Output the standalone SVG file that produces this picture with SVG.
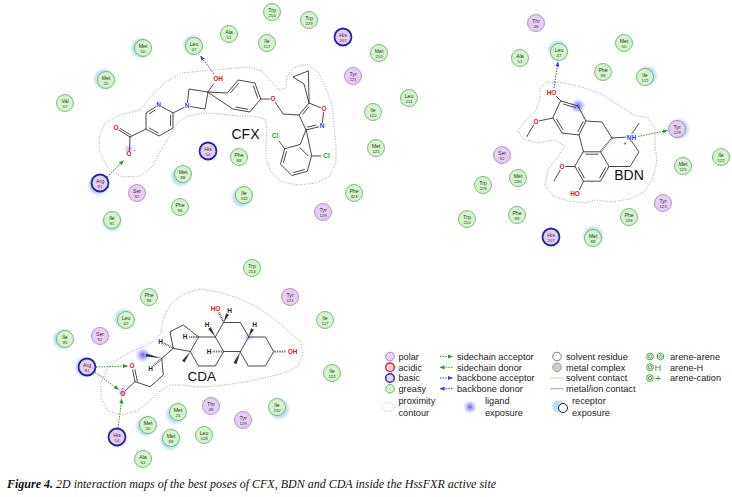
<svg xmlns="http://www.w3.org/2000/svg" width="732" height="497" viewBox="0 0 732 497">
<defs>
<style>
.res text{font-family:"Liberation Sans",Arial,sans-serif;font-size:5.2px;fill:#333;text-anchor:middle}
.res text.n{font-size:4.3px}
.c{stroke-width:0.8}
.g .c{fill:#d4f5cb;stroke:#5cab5c}
.p .c{fill:#e7cdf1;stroke:#a47ac2}
.b .c{fill:#e7cdf1;stroke:#2222aa;stroke-width:1.8}
.halo{fill:url(#hg)}
.bd{stroke:#333;stroke-width:0.9;fill:none;stroke-linecap:round;stroke-linejoin:round}
.hs{stroke:#333;stroke-width:2.2;stroke-dasharray:0.7 1;fill:none}
.wd{fill:#333}
.at{font-family:"Liberation Sans",Arial,sans-serif;font-size:6.5px;text-anchor:middle;font-weight:bold}
.O{fill:#ee1111}.N{fill:#2b3df0}.Cl{fill:#22a022}.H{fill:#222}
.lig{font-family:"Liberation Sans",Arial,sans-serif;font-size:14px;fill:#111;text-anchor:middle}
.ctr{fill:none;stroke:#9a9a9a;stroke-width:0.9;stroke-dasharray:1 1.6;stroke-linejoin:round}
.hbg{stroke:#2a9a2a;stroke-width:1;stroke-dasharray:1.5 1.2;fill:none;marker-end:url(#ag)}
.hbb{stroke:#3a3ae6;stroke-width:1;stroke-dasharray:1.5 1.2;fill:none;marker-end:url(#ab)}
.lt{font-family:"Liberation Sans",Arial,sans-serif;font-size:9.2px;fill:#222}
.cap{font-family:"Liberation Serif","Times New Roman",serif;font-size:12px;font-style:italic;fill:#111}
</style>
<radialGradient id="hg">
<stop offset="0" stop-color="#9fcdf5" stop-opacity="0.9"/>
<stop offset="0.72" stop-color="#b3d8f7" stop-opacity="0.8"/>
<stop offset="1" stop-color="#d0e7fa" stop-opacity="0"/>
</radialGradient>
<radialGradient id="lg">
<stop offset="0" stop-color="#4040ff" stop-opacity="0.85"/>
<stop offset="0.5" stop-color="#7070ff" stop-opacity="0.45"/>
<stop offset="1" stop-color="#a0a0ff" stop-opacity="0"/>
</radialGradient>
<marker id="ag" viewBox="0 0 6 6" refX="5.5" refY="3" markerWidth="5" markerHeight="5" orient="auto" markerUnits="userSpaceOnUse"><path d="M0,0.5 L6,3 L0,5.5z" fill="#2a9a2a"/></marker>
<marker id="ab" viewBox="0 0 6 6" refX="5.5" refY="3" markerWidth="5" markerHeight="5" orient="auto" markerUnits="userSpaceOnUse"><path d="M0,0.5 L6,3 L0,5.5z" fill="#3a3ae6"/></marker>
</defs>
<rect width="732" height="497" fill="#fff"/>

<!-- CFX contour & exposure -->
<g id="cfx-contour">
<polygon class="ctr" points="99,137 105,123 120,115 140,110 153,94 167,81 182,73 202,71 225,69 248,67 262,71 270,80 279,90 286,88 287,77 293,68 307,64 318,72 326,88 332,105 334,125 336,145 336,162 330,176 316,183 298,185 282,182 271,172 266,158 266,143 267,128 265,119 253,116 237,116 220,114 203,113 188,116 178,122 171,134 162,148 152,167 140,176 122,177 108,168 100,153"/>
<circle cx="129" cy="149" r="6" fill="url(#lg)" opacity="0.45"/>
</g>
<g id="bdn-contour">
<polygon class="ctr" points="547,82 565,83 585,88 603,95 620,106 634,115 648,118 655,128 655,145 657,162 652,180 644,192 630,199 612,202 596,200 584,203 568,201 553,196 545,185 548,170 557,158 565,146 555,140 538,143 523,139 518,130 525,121 535,112 540,100 540,88"/>
<circle cx="578" cy="106" r="8" fill="url(#lg)"/>
</g>
<g id="cda-contour">
<polygon class="ctr" points="155,340 161,333 163,320 170,305 183,294 200,289 218,292 238,298 257,307 273,318 288,331 301,342 303,355 297,367 284,373 268,377 250,381 232,384 216,386 198,387 182,385 170,385 160,391 150,401 137,411 122,415 108,411 101,398 101,382 107,369 118,359 132,351 145,346"/>
<circle cx="143" cy="355" r="8" fill="url(#lg)"/>
<circle cx="123" cy="392" r="6" fill="url(#lg)" opacity="0.5"/>
<circle cx="248.7" cy="337" r="5" fill="url(#lg)" opacity="0.5"/>
</g>

<!-- CFX ligand -->
<g id="cfx">
<path class="bd" d="M155.6,106.9 L146,113 L146,129 L159,136 L173,128 L173,113 L161.6,106.7 M149.4,113.7 L155,110.1 M149.2,128 L158.3,132.9 M170.6,125.75 L170.6,115.25
M146,129 L130,137 M130,137 L119,130.2 M131.1,135.3 L120.1,128.5 M130,137 L129.6,150.5
M173,113 L183.8,107.6 M187.4,102.5 L189,89 L208,92 L205,109 L190.6,106.6 M208,92 L213.5,84
M208,92 L227.3,93 L238.2,80 L254.9,83 L260.7,99 L249.8,112 L233.1,109 Z M230.7,92.6 L238.4,83.5 M253.5,86.2 L257.5,97.4 M247.7,109.2 L236,107.1
M260.7,99 L269.5,99 M275.5,102.5 L283,114 L299,115 L309,103 L320.5,107.6 M323.7,112.5 L322.3,122.5 M318.6,126.9 L306,130 L299,115 M302.8,114.1 L308.8,106.9 M307.8,127.1 L315.8,125.1
M309,103 L304,84 L293,77 L308,71 Z
M306,130 L300.1,144.5 L284.7,148.7 L280.5,164.1 L291.9,175.5 L307.3,171.3 L311.5,155.9 Z M286.4,151.6 L283.5,162.4 M293.6,172.5 L304.4,169.6 M308.1,155.9 L300.1,147.9
M284.7,148.7 L279,141 M311.5,155.9 L320.5,156"/>
<text class="at N" x="158.5" y="107.3">N</text>
<text class="at N" x="187" y="108.3">N</text>
<text class="at O" x="218" y="81.3">OH</text>
<text class="at O" x="116" y="130.3">O</text>
<text class="at O" x="129" y="156.3">O</text>
<text class="at O" x="134.5" y="151.5" style="font-size:6px">-</text>
<text class="at O" x="273" y="101.3">O</text>
<text class="at O" x="324" y="111.3">O</text>
<text class="at N" x="322" y="128.3">N</text>
<text class="at Cl" x="275" y="138.3">Cl</text>
<text class="at Cl" x="326.5" y="158.3">Cl</text>
<text class="lig" x="245.5" y="138.5">CFX</text>
</g>

<!-- BDN ligand -->
<g id="bdn">
<path class="bd" d="M561,101 L578,106 L586,121 L579,135 L562,133 L553,118 Z M563.6,104.15 L575.5,107.65 M583,121.7 L578.1,131.5 M562.8,129.6 L556.5,119.1
M561,101 L556.5,96.5 M553,118 L539.5,120.8 M533.5,125 L527,136.5
M586,121 L602,122 L612,138 M579,135 L583.5,151.8
M583.5,151.8 L600.5,151.8 L609,166.5 L600.5,181.2 L583.5,181.2 L575,166.5 Z M586,154.2 L598,154.2 M605.6,167.5 L599.7,177.8 M584.3,177.8 L578.4,167.5
M575,166.5 L565.5,166.5 M560,170.5 L554,181 M583.5,181.2 L579.5,189.5
M612,138 L625.5,137.2 M631,140.5 L639,152 L630,166.5 L609,166.5 M632,133.5 L639,123.5"/>
<path class="hs" d="M612,138 L600.5,151.8"/>
<text class="at O" x="551.5" y="95.3">HO</text>
<text class="at O" x="536" y="123.8">O</text>
<text class="at O" x="562" y="168.8">O</text>
<text class="at O" x="575" y="196.3">HO</text>
<text class="at N" x="626.8" y="139.5" style="text-anchor:start">NH</text>
<text class="at N" x="625" y="144.5" style="font-size:5px">+</text>
<text class="lig" x="629" y="180">BDN</text>
</g>

<!-- CDA ligand -->
<g id="cda">
<path class="bd" d="M248.7,366 L265.4,366 L273.7,351.5 L265.4,337 L248.7,337 L240.4,351.5 Z
M248.7,337 L240.4,322.5 L223.6,322.5 L215.3,337 L223.6,351.5 L240.4,351.5
M215.3,337 L198.6,337 L190.3,351.5 L198.6,366 L215.3,366 L223.6,351.5
M198.6,337 L183.3,325 L170,331.7 L173.3,348.3 L190.3,351.5
M173.3,348.3 L161.7,358.3 L163.3,375 L150,386.7 L135,381.7 L125.5,390.5
M135,381.7 L132.6,370.2 M137.35,381.2 L134.95,369.7"/>
<polygon class="wd" points="190.3,351.5 182,360.8 184.6,362.6"/>
<polygon class="wd" points="240.4,351.5 233.5,362.8 236.5,364.2"/>
<polygon class="wd" points="215.3,337 210.9,327.1 208.2,328.9"/>
<polygon class="wd" points="223.6,322.5 229,314.7 226.1,313.3"/>
<polygon class="wd" points="248.7,337 253.9,329.7 251.1,328.3"/>
<polygon class="wd" points="161.7,358.3 146.3,353.4 145.7,356.6"/>
<path class="hs" d="M198.6,337 L188.5,337 M223.6,351.5 L212.5,351.5 M173.3,348.3 L163.8,343.2 M223.6,322.5 L219,312.5 M273.7,351.5 L286,351.5 M161.7,358.3 L153.5,365.8"/>
<text class="at H" x="185" y="339.3">H</text>
<text class="at H" x="209" y="353.8">H</text>
<text class="at H" x="160.5" y="343.8">H</text>
<text class="at H" x="207" y="327.3">H</text>
<text class="at H" x="229.5" y="312.8">H</text>
<text class="at H" x="254.5" y="327.3">H</text>
<text class="at H" x="150.5" y="370.8">H</text>
<text class="at O" x="215.5" y="310.8">HO</text>
<text class="at O" x="292.5" y="353.8">OH</text>
<text class="at O" x="132" y="368.3">O</text>
<text class="at O" x="122.7" y="395.6">O</text>
<text class="at O" x="122.7" y="389.8" style="font-size:6px">-</text>
<text class="lig" x="201.7" y="380.5" style="font-size:13.5px">CDA</text>
</g>

<!-- connectors -->
<g id="connectors">
<line class="hbg" x1="107" y1="177" x2="123.5" y2="160.5"/>
<line class="hbb" x1="214" y1="74" x2="200.5" y2="56"/>
<line class="hbb" x1="554" y1="88" x2="558" y2="62"/>
<line class="hbg" x1="638" y1="136.5" x2="667.5" y2="130.5"/>
<line class="hbg" x1="96" y1="367" x2="127.5" y2="366"/>
<line class="hbg" x1="95" y1="372" x2="118.5" y2="389.5"/>
<line class="hbg" x1="118" y1="428" x2="121.8" y2="399"/>
</g>

<!-- CFX residues -->
<g id="cfx-met50" class="res g" transform="translate(143 48)"><circle class="halo" cx="-2" cy="0" r="11.5"/><circle class="c" r="8.5"/><text>Met</text><text class="n" y="5.2">50</text></g>
<g id="cfx-met25" class="res g" transform="translate(106 80)"><circle class="halo" cx="-2" cy="-1" r="11.5"/><circle class="c" r="8.5"/><text>Met</text><text class="n" y="5.2">25</text></g>
<g id="cfx-val57" class="res g" transform="translate(65 103)"><circle class="c" r="8.5"/><text>Val</text><text class="n" y="5.2">57</text></g>
<g id="cfx-leu47" class="res g" transform="translate(194 46)"><circle class="halo" cx="-1" cy="-1" r="11.5"/><circle class="c" r="8.5"/><text>Leu</text><text class="n" y="5.2">47</text></g>
<g id="cfx-ala51" class="res g" transform="translate(229 34)"><circle class="c" r="8.5"/><text>Ala</text><text class="n" y="5.2">51</text></g>
<g id="cfx-trp214" class="res g" transform="translate(272 12)"><circle class="c" r="8.5"/><text>Trp</text><text class="n" y="5.2">214</text></g>
<g id="cfx-trp229" class="res g" transform="translate(309 20)"><circle class="c" r="8.5"/><text>Trp</text><text class="n" y="5.2">229</text></g>
<g id="cfx-ile117" class="res g" transform="translate(267 43)"><circle class="c" r="8.5"/><text>Ile</text><text class="n" y="5.2">117</text></g>
<g id="cfx-his207" class="res b" transform="translate(343 37)"><circle class="c" r="8.5"/><text>His</text><text class="n" y="5.2">207</text></g>
<g id="cfx-met210" class="res g" transform="translate(379 53)"><circle class="c" r="8.5"/><text>Met</text><text class="n" y="5.2">210</text></g>
<g id="cfx-tyr121" class="res p" transform="translate(353 76)"><circle class="c" r="8.5"/><text>Tyr</text><text class="n" y="5.2">121</text></g>
<g id="cfx-leu211" class="res g" transform="translate(409 98)"><circle class="c" r="8.5"/><text>Leu</text><text class="n" y="5.2">211</text></g>
<g id="cfx-ile122" class="res g" transform="translate(373 112)"><circle class="c" r="8.5"/><text>Ile</text><text class="n" y="5.2">122</text></g>
<g id="cfx-met125" class="res g" transform="translate(376 148)"><circle class="c" r="8.5"/><text>Met</text><text class="n" y="5.2">125</text></g>
<g id="cfx-phe324" class="res g" transform="translate(354 193)"><circle class="c" r="8.5"/><text>Phe</text><text class="n" y="5.2">324</text></g>
<g id="cfx-tyr129" class="res p" transform="translate(323 212)"><circle class="c" r="8.5"/><text>Tyr</text><text class="n" y="5.2">129</text></g>
<g id="cfx-ile132" class="res g" transform="translate(244 195)"><circle class="halo" cx="-2" cy="2" r="11.5"/><circle class="c" r="8.5"/><text>Ile</text><text class="n" y="5.2">132</text></g>
<g id="cfx-phe88" class="res g" transform="translate(239 157)"><circle class="c" r="8.5"/><text>Phe</text><text class="n" y="5.2">88</text></g>
<g id="cfx-his54" class="res b" transform="translate(208 151)"><circle class="c" r="8.5"/><text>His</text><text class="n" y="5.2">54</text></g>
<g id="cfx-met88" class="res g" transform="translate(183 174)"><circle class="halo" cx="-2" cy="2" r="11.5"/><circle class="c" r="8.5"/><text>Met</text><text class="n" y="5.2">88</text></g>
<g id="cfx-phe96" class="res g" transform="translate(180 207)"><circle class="c" r="8.5"/><text>Phe</text><text class="n" y="5.2">96</text></g>
<g id="cfx-ser92" class="res p" transform="translate(137 193)"><circle class="c" r="8.5"/><text>Ser</text><text class="n" y="5.2">92</text></g>
<g id="cfx-arg91" class="res b" transform="translate(100 183)"><circle class="halo" cx="-2" cy="2" r="11.5"/><circle class="c" r="8.5"/><text>Arg</text><text class="n" y="5.2">91</text></g>
<g id="cfx-ile95" class="res g" transform="translate(112 220)"><circle class="halo" cx="0" cy="2" r="11"/><circle class="c" r="8.5"/><text>Ile</text><text class="n" y="5.2">95</text></g>

<!-- BDN residues -->
<g id="bdn-thr48" class="res p" transform="translate(536 23)"><circle class="c" r="8.5"/><text>Thr</text><text class="n" y="5.2">48</text></g>
<g id="bdn-leu47" class="res g" transform="translate(559 52)"><circle class="halo" cx="-1" cy="-2" r="11.5"/><circle class="c" r="8.5"/><text>Leu</text><text class="n" y="5.2">47</text></g>
<g id="bdn-ala51" class="res g" transform="translate(520 58)"><circle class="c" r="8.5"/><text>Ala</text><text class="n" y="5.2">51</text></g>
<g id="bdn-met50" class="res g" transform="translate(624 43)"><circle class="c" r="8.5"/><text>Met</text><text class="n" y="5.2">50</text></g>
<g id="bdn-phe99" class="res g" transform="translate(603 72)"><circle class="c" r="8.5"/><text>Phe</text><text class="n" y="5.2">99</text></g>
<g id="bdn-ile112" class="res g" transform="translate(645 77)"><circle class="halo" cx="2" cy="-1" r="11.5"/><circle class="c" r="8.5"/><text>Ile</text><text class="n" y="5.2">112</text></g>
<g id="bdn-tyr129" class="res p" transform="translate(677 129)"><circle class="halo" cx="2" cy="0" r="11.5"/><circle class="c" r="8.5"/><text>Tyr</text><text class="n" y="5.2">129</text></g>
<g id="bdn-ile122" class="res g" transform="translate(721 157)"><circle class="c" r="8.5"/><text>Ile</text><text class="n" y="5.2">122</text></g>
<g id="bdn-met125" class="res g" transform="translate(683 166)"><circle class="c" r="8.5"/><text>Met</text><text class="n" y="5.2">125</text></g>
<g id="bdn-tyr123" class="res p" transform="translate(663 203)"><circle class="c" r="8.5"/><text>Tyr</text><text class="n" y="5.2">123</text></g>
<g id="bdn-phe126" class="res g" transform="translate(629 217)"><circle class="c" r="8.5"/><text>Phe</text><text class="n" y="5.2">126</text></g>
<g id="bdn-met88" class="res g" transform="translate(593 238)"><circle class="halo" cx="0" cy="-2" r="11.5"/><circle class="c" r="8.5"/><text>Met</text><text class="n" y="5.2">88</text></g>
<g id="bdn-his207" class="res b" transform="translate(551 237)"><circle class="c" r="8.5"/><text>His</text><text class="n" y="5.2">207</text></g>
<g id="bdn-phe89" class="res g" transform="translate(517 215)"><circle class="c" r="8.5"/><text>Phe</text><text class="n" y="5.2">89</text></g>
<g id="bdn-trp214" class="res g" transform="translate(467 219)"><circle class="c" r="8.5"/><text>Trp</text><text class="n" y="5.2">214</text></g>
<g id="bdn-trp229" class="res g" transform="translate(483 185)"><circle class="c" r="8.5"/><text>Trp</text><text class="n" y="5.2">229</text></g>
<g id="bdn-met230" class="res g" transform="translate(518 178)"><circle class="c" r="8.5"/><text>Met</text><text class="n" y="5.2">230</text></g>
<g id="bdn-ser92" class="res p" transform="translate(502 155)"><circle class="c" r="8.5"/><text>Ser</text><text class="n" y="5.2">92</text></g>

<!-- CDA residues -->
<g id="cda-trp214" class="res g" transform="translate(252 268)"><circle class="c" r="8.5"/><text>Trp</text><text class="n" y="5.2">214</text></g>
<g id="cda-phe96" class="res g" transform="translate(149 297)"><circle class="c" r="8.5"/><text>Phe</text><text class="n" y="5.2">96</text></g>
<g id="cda-tyr121" class="res p" transform="translate(290 297)"><circle class="c" r="8.5"/><text>Tyr</text><text class="n" y="5.2">121</text></g>
<g id="cda-leu47" class="res g" transform="translate(126 320)"><circle class="halo" cx="-2" cy="-1" r="11.5"/><circle class="c" r="8.5"/><text>Leu</text><text class="n" y="5.2">47</text></g>
<g id="cda-ile117" class="res g" transform="translate(325 320)"><circle class="c" r="8.5"/><text>Ile</text><text class="n" y="5.2">117</text></g>
<g id="cda-ser92" class="res p" transform="translate(100 336)"><circle class="c" r="8.5"/><text>Ser</text><text class="n" y="5.2">92</text></g>
<g id="cda-ile95" class="res g" transform="translate(65 339)"><circle class="halo" cx="-2" cy="0" r="11.5"/><circle class="c" r="8.5"/><text>Ile</text><text class="n" y="5.2">95</text></g>
<g id="cda-arg91" class="res b" transform="translate(87 367)"><circle class="halo" cx="-2" cy="0" r="11.5"/><circle class="c" r="8.5"/><text>Arg</text><text class="n" y="5.2">91</text></g>
<g id="cda-ile122" class="res g" transform="translate(332 373)"><circle class="c" r="8.5"/><text>Ile</text><text class="n" y="5.2">122</text></g>
<g id="cda-thr48" class="res p" transform="translate(211 406)"><circle class="c" r="8.5"/><text>Thr</text><text class="n" y="5.2">48</text></g>
<g id="cda-ile132" class="res g" transform="translate(277 407)"><circle class="halo" cx="2" cy="2" r="11.5"/><circle class="c" r="8.5"/><text>Ile</text><text class="n" y="5.2">132</text></g>
<g id="cda-met25" class="res g" transform="translate(178 412)"><circle class="halo" cx="-2" cy="2" r="11.5"/><circle class="c" r="8.5"/><text>Met</text><text class="n" y="5.2">25</text></g>
<g id="cda-tyr129" class="res p" transform="translate(243 420)"><circle class="c" r="8.5"/><text>Tyr</text><text class="n" y="5.2">129</text></g>
<g id="cda-met50" class="res g" transform="translate(148 425)"><circle class="halo" cx="-2" cy="1" r="11.5"/><circle class="c" r="8.5"/><text>Met</text><text class="n" y="5.2">50</text></g>
<g id="cda-leu108" class="res g" transform="translate(204 435)"><circle class="c" r="8.5"/><text>Leu</text><text class="n" y="5.2">108</text></g>
<g id="cda-met88" class="res g" transform="translate(171 438)"><circle class="halo" cx="-1" cy="2" r="11.5"/><circle class="c" r="8.5"/><text>Met</text><text class="n" y="5.2">88</text></g>
<g id="cda-his54" class="res b" transform="translate(117 437)"><circle class="c" r="8.5"/><text>His</text><text class="n" y="5.2">54</text></g>
<g id="cda-ala51" class="res g" transform="translate(143 459)"><circle class="c" r="8.5"/><text>Ala</text><text class="n" y="5.2">51</text></g>

<!-- Legend -->
<g id="legend">
<circle cx="390" cy="356.5" r="4.3" fill="#ecd2f4" stroke="#b07ccc" stroke-width="1"/>
<circle cx="390" cy="367.3" r="4.3" fill="#f6d3dc" stroke="#d0203c" stroke-width="1.4"/>
<circle cx="390" cy="378" r="4.3" fill="#e2d6f4" stroke="#2a2ab0" stroke-width="1.4"/>
<circle cx="390" cy="388.7" r="4.3" fill="#d4f5cb" stroke="#6cbf6c" stroke-width="1"/>
<text class="lt" x="398.5" y="359.8">polar</text>
<text class="lt" x="398.5" y="370.6">acidic</text>
<text class="lt" x="398.5" y="381.3">basic</text>
<text class="lt" x="398.5" y="392">greasy</text>
<line class="hbg" x1="440" y1="356.5" x2="452.5" y2="356.5"/>
<line class="hbg" x1="452.5" y1="367.3" x2="440" y2="367.3"/>
<line class="hbb" x1="440" y1="378" x2="452.5" y2="378"/>
<line class="hbb" x1="452.5" y1="388.7" x2="440" y2="388.7"/>
<text class="lt" x="457" y="359.8">sidechain acceptor</text>
<text class="lt" x="457" y="370.6">sidechain donor</text>
<text class="lt" x="457" y="381.3">backbone acceptor</text>
<text class="lt" x="457" y="392">backbone donor</text>
<circle cx="557" cy="356.5" r="4.3" fill="#fff" stroke="#555" stroke-width="0.8"/>
<circle cx="557" cy="367.3" r="4.3" fill="#cfcfcf" stroke="#888" stroke-width="0.8"/>
<line x1="550.5" y1="378" x2="563.5" y2="378" stroke="#c9cf9c" stroke-width="0.9"/>
<line x1="550.5" y1="388.7" x2="563.5" y2="388.7" stroke="#b874c8" stroke-width="0.9"/>
<text class="lt" x="566" y="359.8">solvent residue</text>
<text class="lt" x="566" y="370.6">metal complex</text>
<text class="lt" x="566" y="381.3">solvent contact</text>
<text class="lt" x="566" y="392">metal/ion contact</text>
<g fill="none" stroke="#2f9a2f" stroke-width="0.9">
<circle cx="650" cy="356.5" r="3.4"/><circle cx="650" cy="356.5" r="1.7"/>
<polygon points="660.5,352.9 663.6,354.7 663.6,358.3 660.5,360.1 657.4,358.3 657.4,354.7"/><circle cx="660.5" cy="356.5" r="1.6"/>
<circle cx="650" cy="367.3" r="3.4"/><circle cx="650" cy="367.3" r="1.7"/>
<circle cx="650" cy="378" r="3.4"/><circle cx="650" cy="378" r="1.7"/>
</g>
<text class="lt" x="654.5" y="370.6" style="fill:#2f9a2f">H</text>
<text class="lt" x="655" y="381.6" style="fill:#2f9a2f;font-size:10.5px">+</text>
<text class="lt" x="670" y="359.8">arene-arene</text>
<text class="lt" x="670" y="370.6">arene-H</text>
<text class="lt" x="670" y="381.3">arene-cation</text>
<ellipse cx="388.5" cy="407" rx="6.5" ry="4.5" fill="none" stroke="#bbb" stroke-width="0.9" stroke-dasharray="1 1.4"/>
<text class="lt" x="398.5" y="404">proximity</text>
<text class="lt" x="398.5" y="416">contour</text>
<circle cx="470" cy="407" r="7" fill="url(#lg)"/>
<text class="lt" x="485" y="404">ligand</text>
<text class="lt" x="485" y="416">exposure</text>
<circle cx="558.5" cy="406.5" r="7.5" fill="url(#hg)"/>
<circle cx="563" cy="408" r="4.5" fill="#fff" stroke="#222" stroke-width="1"/>
<text class="lt" x="572" y="404">receptor</text>
<text class="lt" x="572" y="416">exposure</text>
</g>

<text class="cap" x="7" y="487.5"><tspan font-weight="bold">Figure 4.</tspan> 2D interaction maps of the best poses of CFX, BDN and CDA inside the HssFXR active site</text>
</svg>
